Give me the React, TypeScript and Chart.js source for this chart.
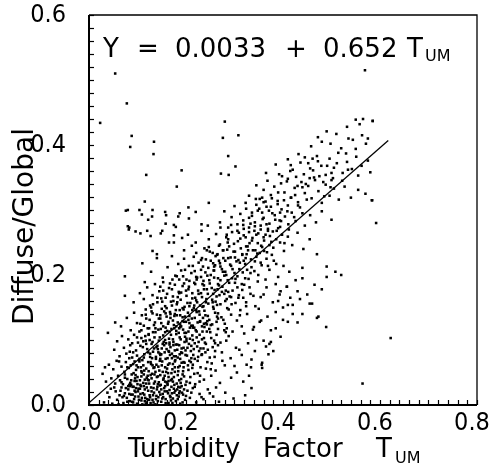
import React, { useEffect, useRef } from "react";
import { Chart, registerables } from "chart.js";
Chart.register(...registerables);

// ---- data (Turbidity factor T_UM, Diffuse/Global) ----
const bandA: number[][] = [
  [.031,.004],[.042,.012],[.048,.002],[.055,.021],[.058,.008],[.063,.015],[.067,.027],[.071,.003],[.074,.018],[.078,.011],
  [.081,.024],[.084,.006],[.087,.016],[.09,.028],[.093,.009],[.096,.02],[.099,.002],[.102,.013],[.105,.025],[.108,.007],
  [.111,.018],[.113,.029],[.116,.011],[.119,.004],[.122,.022],[.125,.015],[.128,.027],[.131,.008],[.134,.019],[.137,.001],
  [.14,.024],[.143,.012],[.146,.03],[.149,.005],[.152,.017],[.155,.026],[.158,.009],[.161,.021],[.164,.003],[.167,.014],
  [.17,.028],[.173,.01],[.176,.019],[.179,.006],[.182,.024],[.185,.013],[.188,.002],[.191,.029],[.194,.016],[.198,.008],
  [.203,.022],[.208,.011],[.214,.026],[.221,.004],[.228,.017],[.236,.009],[.245,.024],[.256,.013],[.268,.005],[.281,.019],
  [.298,.01],[.322,.015],[.038,.019],[.052,.027],[.061,.001],[.069,.012],[.076,.026],[.083,.017],[.089,.005],[.095,.013],
  [.101,.021],[.107,.029],[.114,.016],[.12,.009],[.127,.003],[.133,.026],[.139,.014],[.145,.02],[.151,.01],[.157,.029],
  [.163,.018],[.169,.007],[.175,.025],[.181,.015],[.187,.021],[.193,.004],[.2,.014],[.211,.019],[.218,.028],[.232,.012],
  [.249,.018],[.262,.027],[.045,.025],[.065,.022],[.085,.029],[.11,.001],[.142,.006],[.166,.023],[.184,.028],[.196,.024],
  [.124,.008],[.097,.026],
];
const bandB: number[][] = [
  [.028,.048],[.035,.036],[.041,.062],[.046,.041],[.05,.055],[.054,.033],[.057,.068],[.06,.045],[.064,.038],[.067,.059],
  [.07,.032],[.073,.051],[.076,.066],[.079,.04],[.082,.057],[.085,.034],[.088,.047],[.091,.063],[.094,.037],[.097,.054],
  [.1,.043],[.103,.069],[.106,.031],[.109,.05],[.112,.061],[.115,.039],[.118,.056],[.121,.045],[.124,.033],[.127,.066],
  [.13,.048],[.133,.057],[.136,.036],[.139,.062],[.142,.044],[.145,.053],[.148,.031],[.151,.067],[.154,.041],[.157,.058],
  [.16,.035],[.163,.049],[.166,.064],[.169,.038],[.172,.055],[.175,.043],[.178,.069],[.181,.033],[.184,.052],[.187,.06],
  [.19,.04],[.193,.047],[.197,.065],[.201,.036],[.205,.054],[.209,.043],[.214,.062],[.219,.032],[.224,.049],[.23,.058],
  [.237,.039],[.244,.066],[.252,.045],[.261,.053],[.27,.034],[.28,.061],[.293,.042],[.305,.05],[.318,.036],[.334,.058],
  [.356,.062],[.033,.058],[.062,.067],[.087,.031],[.113,.047],[.137,.051],[.162,.031],[.186,.038],[.207,.068],[.228,.036],
  [.253,.064],[.074,.042],[.098,.061],[.123,.052],[.147,.046],[.171,.04],[.195,.058],
];
const bandC: number[][] = [
  [.052,.085],[.058,.098],[.063,.075],[.068,.106],[.072,.088],[.077,.079],[.081,.101],[.085,.092],[.089,.073],[.093,.108],
  [.097,.084],[.101,.096],[.104,.071],[.108,.103],[.111,.089],[.114,.078],[.117,.099],[.12,.086],[.123,.109],[.126,.074],
  [.129,.094],[.132,.082],[.135,.104],[.138,.071],[.141,.091],[.144,.099],[.147,.077],[.15,.087],[.153,.107],[.156,.081],
  [.159,.095],[.162,.072],[.165,.102],[.168,.089],[.171,.079],[.174,.097],[.177,.084],[.18,.109],[.183,.073],[.186,.092],
  [.189,.101],[.192,.08],[.195,.088],[.198,.105],[.202,.076],[.206,.094],[.21,.083],[.214,.1],[.218,.071],[.223,.09],
  [.228,.108],[.233,.078],[.239,.096],[.245,.085],[.252,.103],[.259,.074],[.266,.092],[.274,.081],[.283,.099],[.292,.072],
  [.303,.088],[.315,.077],[.328,.095],[.342,.083],[.36,.099],[.372,.094],[.091,.081],[.116,.106],[.134,.087],[.157,.1],
  [.175,.075],[.197,.097],[.216,.086],[.237,.103],[.26,.083],[.106,.091],[.143,.081],[.166,.093],[.187,.078],[.208,.102],
  [.23,.087],[.125,.1],[.152,.094],
];
const bandD: number[][] = [
  [.066,.121],[.078,.134],[.086,.115],[.093,.142],[.099,.126],[.104,.113],[.109,.138],[.113,.122],[.117,.147],[.121,.118],
  [.125,.131],[.129,.144],[.132,.112],[.136,.127],[.14,.139],[.143,.116],[.147,.133],[.15,.148],[.153,.121],[.157,.112],
  [.16,.136],[.163,.125],[.167,.143],[.17,.117],[.173,.13],[.177,.14],[.18,.114],[.183,.127],[.187,.146],[.19,.121],
  [.193,.135],[.197,.111],[.2,.128],[.204,.142],[.208,.119],[.212,.133],[.216,.149],[.22,.115],[.224,.127],[.228,.139],
  [.233,.121],[.238,.145],[.243,.113],[.248,.131],[.254,.124],[.26,.142],[.266,.117],[.273,.135],[.28,.125],[.288,.147],
  [.296,.113],[.305,.13],[.315,.121],[.326,.14],[.338,.116],[.352,.128],[.368,.136],[.385,.118],[.131,.141],[.149,.126],
  [.168,.134],[.186,.118],[.205,.131],[.222,.143],[.241,.126],[.263,.128],[.137,.118],[.155,.144],[.175,.123],[.195,.147],
  [.214,.122],[.235,.134],[.118,.133],[.282,.112],[.311,.138],[.181,.138],
];
const bandE: number[][] = [
  [.092,.158],[.105,.172],[.113,.163],[.12,.181],[.126,.153],[.131,.169],[.136,.186],[.141,.158],[.145,.175],[.149,.164],
  [.153,.189],[.157,.152],[.161,.171],[.165,.18],[.169,.159],[.173,.167],[.177,.185],[.181,.155],[.185,.174],[.189,.162],
  [.193,.183],[.197,.151],[.201,.168],[.205,.178],[.209,.157],[.213,.172],[.217,.188],[.221,.161],[.225,.176],[.229,.153],
  [.233,.166],[.237,.184],[.241,.158],[.245,.171],[.249,.187],[.254,.162],[.259,.177],[.264,.154],[.269,.169],[.275,.182],
  [.281,.16],[.287,.174],[.294,.155],[.301,.188],[.308,.165],[.316,.177],[.324,.158],[.333,.171],[.343,.152],[.354,.166],
  [.366,.181],[.379,.158],[.393,.17],[.408,.182],[.42,.154],[.435,.163],[.455,.156],[.171,.178],[.196,.187],[.219,.165],
  [.243,.178],[.266,.186],[.29,.167],[.183,.166],[.207,.152],[.231,.172],[.256,.151],[.279,.171],[.158,.165],[.147,.182],
  [.32,.185],[.115,.189],
];
const bandF: number[][] = [
  [.11,.218],[.128,.205],[.14,.226],[.152,.196],[.162,.212],[.171,.229],[.178,.199],[.184,.217],[.19,.207],[.196,.225],
  [.201,.193],[.206,.214],[.211,.203],[.216,.228],[.221,.197],[.226,.219],[.231,.208],[.236,.191],[.241,.224],[.246,.211],
  [.251,.2],[.256,.218],[.261,.229],[.266,.195],[.271,.213],[.276,.205],[.281,.222],[.286,.192],[.291,.216],[.296,.209],
  [.301,.227],[.306,.198],[.311,.219],[.317,.204],[.323,.226],[.329,.194],[.335,.212],[.342,.221],[.349,.2],[.356,.215],
  [.364,.193],[.372,.208],[.381,.222],[.39,.197],[.401,.214],[.413,.205],[.426,.192],[.44,.211],[.49,.213],[.49,.197],
  [.508,.205],[.258,.207],[.283,.2],[.308,.223],[.333,.203],[.233,.226],[.218,.206],[.268,.222],[.295,.195],[.345,.228],
  [.186,.193],[.366,.225],
];
const bandG: number[][] = [
  [.082,.27],[.096,.267],[.106,.264],[.12,.268],[.127,.26],[.148,.264],[.151,.268],[.175,.261],[.192,.257],[.204,.262],
  [.212,.245],[.165,.25],[.175,.25],[.131,.237],[.14,.232],[.196,.238],[.22,.25],[.232,.268],[.238,.241],[.247,.255],
  [.255,.234],[.262,.263],[.27,.247],[.277,.238],[.283,.258],[.289,.244],[.295,.266],[.301,.236],[.307,.252],[.313,.241],
  [.319,.261],[.325,.232],[.331,.249],[.337,.257],[.343,.238],[.349,.264],[.355,.245],[.361,.253],[.367,.235],[.373,.26],
  [.38,.242],[.387,.268],[.394,.25],[.402,.237],[.41,.259],[.419,.246],[.43,.265],[.442,.24],[.455,.255],[.47,.232],
  [.286,.25],[.309,.265],[.327,.244],[.352,.234],[.376,.251],[.398,.262],[.265,.232],[.341,.268],[.316,.231],[.364,.262],
  [.247,.243],
];
const bandH: number[][] = [
  [.076,.299],[.104,.3],[.109,.293],[.122,.285],[.13,.29],[.131,.3],[.157,.297],[.159,.292],[.184,.29],[.187,.295],
  [.205,.304],[.206,.287],[.22,.297],[.232,.278],[.245,.276],[.158,.279],[.175,.277],[.179,.274],[.08,.275],[.083,.273],
  [.27,.281],[.279,.298],[.287,.273],[.294,.289],[.3,.306],[.306,.278],[.312,.294],[.318,.284],[.324,.302],[.33,.273],
  [.336,.291],[.342,.281],[.348,.299],[.354,.276],[.36,.288],[.366,.305],[.372,.279],[.378,.295],[.384,.285],[.39,.272],
  [.397,.301],[.404,.29],[.411,.278],[.418,.296],[.426,.283],[.435,.304],[.445,.276],[.456,.292],[.468,.281],[.48,.298],
  [.5,.285],[.319,.271],[.345,.308],[.369,.271],[.393,.284],[.41,.307],[.33,.288],[.357,.296],
];
const bandI: number[][] = [
  [.33,.322],[.345,.338],[.352,.317],[.36,.331],[.368,.345],[.375,.323],[.382,.336],[.389,.314],[.396,.341],[.403,.327],
  [.41,.348],[.417,.319],[.424,.334],[.431,.312],[.438,.343],[.445,.326],[.452,.337],[.459,.318],[.466,.346],[.473,.329],
  [.48,.311],[.488,.339],[.496,.322],[.505,.333],[.515,.316],[.527,.336],[.54,.319],[.555,.331],[.57,.325],[.39,.327],
  [.425,.323],[.455,.349],[.485,.321],[.36,.312],[.44,.335],[.5,.346],[.583,.315],
];
const bandJ: number[][] = [
  [.365,.357],[.385,.37],[.398,.352],[.41,.378],[.42,.362],[.432,.386],[.443,.355],[.452,.372],[.462,.361],[.47,.383],
  [.479,.368],[.488,.354],[.496,.379],[.505,.365],[.514,.388],[.523,.357],[.532,.374],[.542,.363],[.551,.382],[.562,.368],
  [.575,.376],[.58,.358],[.445,.381],[.475,.352],[.5,.357],[.53,.387],[.415,.36],[.555,.353],
];
const bandK: number[][] = [
  [.458,.398],[.472,.412],[.49,.421],[.498,.402],[.51,.417],[.52,.395],[.532,.428],[.544,.408],[.55,.394],[.558,.432],
  [.563,.415],[.571,.402],[.585,.437],[.565,.44],[.55,.439],[.48,.405],[.535,.41],[.575,.41],
];
const coreDense: number[][] = [
  [.072,.014],[.083,.031],[.091,.004],[.098,.037],[.106,.017],[.112,.034],[.117,.002],[.123,.038],[.129,.021],[.134,.033],
  [.138,.009],[.144,.035],[.149,.024],[.153,.039],[.158,.003],[.162,.033],[.168,.012],[.173,.036],[.178,.022],[.183,.009],
  [.189,.034],[.192,.019],[.199,.031],[.115,.024],[.103,.008],[.094,.022],[.087,.038],[.079,.005],[.126,.012],[.141,.028],
  [.147,.016],[.156,.021],[.172,.003],[.186,.018],[.132,.015],[.118,.033],[.109,.011],[.1,.032],[.164,.037],[.176,.031],
  [.083,.072],[.092,.049],[.099,.076],[.107,.058],[.113,.073],[.119,.042],[.126,.079],[.131,.061],[.138,.074],[.143,.059],
  [.149,.078],[.152,.051],[.158,.071],[.164,.043],[.167,.077],[.173,.063],[.179,.075],[.183,.046],[.188,.071],[.194,.052],
  [.199,.077],[.204,.061],[.211,.072],[.217,.048],[.224,.068],[.232,.077],[.241,.056],[.249,.073],[.129,.041],[.146,.068],
  [.161,.056],[.177,.051],[.135,.047],[.122,.066],[.108,.044],[.156,.045],[.191,.065],[.213,.057],[.104,.067],[.171,.072],
  [.108,.115],[.118,.094],[.124,.118],[.131,.097],[.137,.112],[.142,.086],[.148,.117],[.155,.092],[.161,.114],[.164,.083],
  [.169,.108],[.176,.118],[.179,.093],[.185,.111],[.191,.087],[.194,.116],[.201,.098],[.205,.113],[.211,.091],[.217,.119],
  [.222,.104],[.227,.083],[.234,.113],[.241,.094],[.248,.117],[.255,.089],[.263,.108],[.271,.096],[.279,.115],[.288,.106],
  [.146,.104],[.158,.119],[.173,.101],[.188,.12],[.199,.084],[.213,.107],[.226,.097],[.238,.12],[.182,.085],[.166,.096],
  [.132,.155],[.144,.133],[.151,.159],[.158,.141],[.164,.128],[.171,.153],[.176,.137],[.182,.158],[.188,.124],[.193,.149],
  [.198,.136],[.203,.157],[.207,.126],[.213,.146],[.218,.134],[.223,.158],[.229,.129],[.234,.151],[.24,.138],[.246,.156],
  [.251,.123],[.257,.148],[.264,.136],[.271,.155],[.277,.131],[.285,.149],[.293,.139],[.302,.157],[.312,.146],[.324,.152],
  [.179,.146],[.196,.128],[.211,.122],[.227,.144],[.244,.129],[.261,.159],[.188,.138],[.217,.153],[.237,.125],[.168,.14],
  [.172,.193],[.186,.172],[.194,.198],[.2,.176],[.207,.191],[.213,.164],[.219,.186],[.226,.171],[.231,.197],[.237,.178],
  [.242,.163],[.248,.192],[.253,.18],[.258,.196],[.263,.167],[.268,.184],[.274,.174],[.279,.199],[.284,.163],[.289,.188],
  [.296,.176],[.302,.194],[.309,.169],[.315,.186],[.322,.195],[.331,.181],[.339,.168],[.348,.19],[.234,.186],[.256,.171],
  [.271,.192],[.293,.166],[.306,.181],[.223,.196],[.265,.178],[.282,.176],[.244,.199],[.318,.165],
  [.221,.234],[.235,.213],[.243,.238],[.251,.222],[.257,.207],[.264,.231],[.27,.218],[.276,.238],[.281,.205],[.287,.226],
  [.293,.214],[.298,.236],[.304,.221],[.31,.209],[.316,.232],[.322,.217],[.328,.238],[.334,.224],[.341,.206],[.347,.233],
  [.354,.219],[.361,.237],[.369,.214],[.377,.231],[.386,.217],[.26,.215],[.285,.239],[.3,.203],[.319,.222],[.338,.238],
  [.292,.227],[.274,.209],[.326,.208],
  [.271,.273],[.284,.262],[.293,.277],[.299,.248],[.306,.268],[.312,.256],[.318,.277],[.324,.244],[.33,.266],[.336,.253],
  [.342,.275],[.348,.249],[.354,.27],[.36,.258],[.366,.278],[.372,.246],[.379,.267],[.386,.255],[.394,.274],[.403,.249],
  [.412,.27],[.323,.258],[.345,.262],[.369,.268],[.333,.279],[.357,.243],
  [.323,.311],[.336,.296],[.344,.317],[.351,.302],[.358,.286],[.364,.313],[.371,.299],[.377,.318],[.383,.292],[.389,.309],
  [.396,.283],[.402,.315],[.409,.298],[.416,.319],[.423,.289],[.431,.307],[.44,.295],[.449,.316],[.375,.305],[.394,.296],
  [.357,.319],
  [.392,.355],[.408,.344],[.416,.369],[.427,.351],[.436,.373],[.447,.34],[.456,.364],[.464,.35],[.472,.375],[.483,.343],
  [.491,.368],[.503,.349],[.511,.372],[.522,.345],[.534,.362],[.43,.337],[.461,.379],[.498,.335],
];
const coreExtra: number[][] = [
  [.067,.035],[.074,.047],[.081,.029],[.086,.061],[.092,.028],[.096,.046],[.101,.058],[.105,.038],[.11,.069],[.114,.053],
  [.119,.027],[.122,.081],[.127,.046],[.13,.072],[.135,.058],[.139,.089],[.142,.032],[.146,.079],[.15,.061],[.154,.097],
  [.157,.036],[.16,.086],[.163,.062],[.166,.113],[.17,.049],[.174,.092],[.177,.067],[.18,.121],[.184,.058],[.187,.104],
  [.19,.081],[.193,.129],[.196,.044],[.2,.111],[.203,.088],[.207,.137],[.21,.066],[.214,.119],[.218,.095],[.221,.146],
  [.225,.074],[.229,.128],[.233,.101],[.236,.152],[.24,.081],[.245,.137],[.25,.112],[.255,.158],[.26,.095],[.266,.141],
  [.09,.016],[.095,.041],[.102,.025],[.108,.052],[.115,.006],[.121,.039],[.128,.063],[.133,.004],[.14,.043],[.147,.071],
  [.153,.012],[.159,.051],[.165,.082],[.171,.018],[.177,.058],[.182,.093],[.188,.027],[.195,.066],[.201,.102],[.208,.034],
  [.215,.077],[.222,.113],[.229,.045],[.236,.087],[.243,.124],[.251,.055],[.258,.099],[.266,.133],[.275,.068],[.284,.118],
  [.079,.058],[.084,.082],[.089,.095],[.094,.067],[.099,.104],[.106,.125],[.112,.098],[.117,.139],[.123,.108],[.128,.15],
  [.134,.123],[.141,.165],[.147,.138],[.153,.176],[.16,.149],[.167,.187],[.174,.16],[.181,.198],[.19,.173],[.198,.208],
  [.206,.182],[.214,.214],[.222,.193],[.231,.223],[.24,.204],[.249,.236],[.258,.213],[.268,.245],[.277,.226],[.287,.255],
];
const lowerTail: number[][] = [
  [.3,.06],[.31,.085],[.32,.11],[.335,.07],[.345,.1],[.355,.13],[.365,.09],[.375,.115],[.33,.045],[.357,.057],
  [.357,.065],[.335,.026],[.385,.143],[.395,.105],[.4,.131],[.41,.128],[.42,.14],[.43,.127],[.44,.14],[.46,.156],
  [.47,.134],[.489,.12],[.473,.136],[.408,.182],[.4,.15],[.41,.154],[.38,.083],[.37,.078],[.39,.16],[.45,.17],
  [.465,.185],[.35,.148],[.36,.17],[.43,.175],[.44,.195],[.415,.165],[.385,.186],[.34,.12],[.325,.062],[.375,.097],
  [.395,.175],[.48,.178],[.52,.2],
];
const outliers: number[][] = [
  [.054,.51],[.078,.464],[.023,.434],[.088,.414],[.085,.397],[.134,.405],[.133,.386],[.569,.515],[.28,.436],[.276,.411],
  [.308,.415],[.287,.383],[.302,.367],[.272,.356],[.288,.354],[.191,.361],[.118,.354],[.181,.336],[.115,.313],[.247,.311],
  [.585,.437],[.592,.28],[.584,.315],[.622,.103],[.564,.033],[.074,.168],[.074,.198],[.054,.127],[.039,.111],[.08,.30],
];
const fitLine: number[][] = [[0.0, 0.0033], [0.617, 0.407]];
const xTickLabels = ["0.0", "0.2", "0.4", "0.6", "0.8"];
const yTickLabels = ["0.0", "0.2", "0.4", "0.6"];
const xTitle = ["Turbidity", "Factor", "T"];
const yTitle = "Diffuse/Global";
const equation = ["Y", "=", "0.0033", "+", "0.652", "T"];
const subscript = "UM";

const allPoints = [bandA, bandB, bandC, bandD, bandE, bandF, bandG, bandH, bandI, bandJ, bandK, coreDense, coreExtra, lowerTail, outliers]
  .flat()
  .map(([x, y]) => ({ x, y }));

const labelFor = (labels: string[]) => (v: number | string) => {
  const n = Number(v);
  const hit = labels.find((l) => Math.abs(parseFloat(l) - n) < 1e-6);
  return hit ?? "";
};

const TICK_FONT = "'DejaVu Sans Condensed', 'Liberation Sans', sans-serif";
const TEXT_FONT = "'DejaVu Sans', sans-serif";

const decor = {
  id: "decor",
  afterDraw(chart: any) {
    const { ctx, chartArea: a, scales } = chart;
    ctx.save();
    ctx.strokeStyle = "#000";
    ctx.fillStyle = "#000";
    ctx.lineWidth = 1.3;
    ctx.beginPath();
    ctx.moveTo(a.left, a.top);
    ctx.lineTo(a.right, a.top);
    ctx.lineTo(a.right, a.bottom);
    ctx.stroke();
    ctx.lineWidth = 2;
    ctx.beginPath();
    ctx.moveTo(a.left, a.top);
    ctx.lineTo(a.left, a.bottom);
    ctx.lineTo(a.right, a.bottom);
    ctx.stroke();
    ctx.lineWidth = 1.2;
    const xs = scales.x;
    xs.ticks.forEach((_: any, i: number) => {
      const p = Math.round(xs.getPixelForTick(i)) + 0.5;
      ctx.beginPath();
      ctx.moveTo(p, a.bottom);
      ctx.lineTo(p, a.bottom - 5);
      ctx.stroke();
    });
    const ys = scales.y;
    ys.ticks.forEach((_: any, i: number) => {
      const p = Math.round(ys.getPixelForTick(i)) + 0.5;
      ctx.beginPath();
      ctx.moveTo(a.left, p);
      ctx.lineTo(a.left + 5, p);
      ctx.stroke();
    });
    ctx.textBaseline = "alphabetic";
    ctx.textAlign = "left";
    ctx.font = `26px ${TEXT_FONT}`;
    const eqX = [103, 137, 175, 285, 323, 407];
    equation.forEach((t, i) => ctx.fillText(t, eqX[i], 57));
    ctx.font = `16px ${TEXT_FONT}`;
    ctx.fillText(subscript, 425, 61);
    ctx.font = `26px ${TEXT_FONT}`;
    const tX = [128, 263, 376];
    xTitle.forEach((t, i) => ctx.fillText(t, tX[i], 457));
    ctx.font = `16px ${TEXT_FONT}`;
    ctx.fillText(subscript, 395, 463);
    ctx.save();
    ctx.translate(33, 325);
    ctx.rotate(-Math.PI / 2);
    ctx.font = `28px ${TEXT_FONT}`;
    ctx.fillText(yTitle, 0, 0);
    ctx.restore();
    ctx.restore();
  },
};

const zeroPad = (s: any) => {
  s.paddingTop = 0;
  s.paddingBottom = 0;
  s.paddingLeft = 0;
  s.paddingRight = 0;
};

export default function App() {
  const ref = useRef<HTMLCanvasElement | null>(null);
  useEffect(() => {
    if (!ref.current) return;
    const chart = new Chart(ref.current, {
      type: "scatter",
      data: {
        datasets: [
          {
            data: fitLine.map(([x, y]) => ({ x, y })),
            showLine: true,
            borderColor: "#000",
            borderWidth: 1.3,
            pointRadius: 0,
          },
          {
            data: allPoints,
            backgroundColor: "#000",
            borderWidth: 0,
            pointStyle: "rect",
            pointRadius: 1.8,
          },
        ],
      },
      plugins: [decor],
      options: {
        animation: false,
        responsive: false,
        devicePixelRatio: 1,
        layout: { padding: { left: 0, right: 14, top: 15, bottom: 0 } },
        plugins: { legend: { display: false }, tooltip: { enabled: false } },
        scales: {
          x: {
            type: "linear",
            min: 0,
            max: 0.8,
            afterFit: (s: any) => { s.height = 59; zeroPad(s); },
            grid: { display: false },
            border: { display: false },
            ticks: {
              stepSize: 0.02,
              autoSkip: false,
              maxRotation: 0,
              minRotation: 0,
              padding: -5,
              labelOffset: -5,
              color: "#000",
              font: { family: TICK_FONT, size: 25 },
              callback: labelFor(xTickLabels),
            },
          },
          y: {
            type: "linear",
            min: 0,
            max: 0.6,
            afterFit: (s: any) => { s.width = 89; zeroPad(s); },
            grid: { display: false },
            border: { display: false },
            ticks: {
              stepSize: 0.02,
              autoSkip: false,
              padding: 15,
              color: "#000",
              font: { family: TICK_FONT, size: 25 },
              callback: labelFor(yTickLabels),
            },
          },
        },
      },
    });
    return () => chart.destroy();
  }, []);
  return (
    <div style={{ position: "absolute", left: 0, top: 0, width: 491, height: 464, background: "#fff" }}>
      <canvas ref={ref} width={491} height={464} style={{ width: 491, height: 464 }} />
    </div>
  );
}
